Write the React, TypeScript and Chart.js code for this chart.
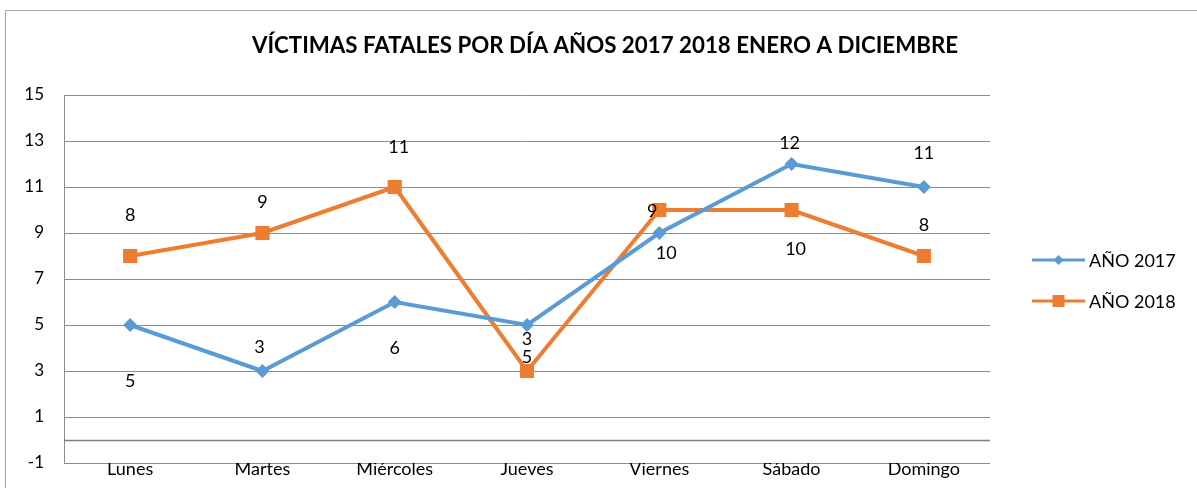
import React, { useEffect, useRef } from "react";
import { Chart, registerables } from "chart.js";

Chart.register(...registerables);

const TITLE = "VÍCTIMAS FATALES POR DÍA AÑOS 2017 2018 ENERO A DICIEMBRE";
const categories = ["Lunes", "Martes", "Miércoles", "Jueves", "Viernes", "Sábado", "Domingo"];
const values2017 = [5, 3, 6, 5, 9, 12, 11];
const values2018 = [8, 9, 11, 3, 10, 10, 8];
const seriesNames = ["AÑO 2017", "AÑO 2018"];
const yMin = -1;
const yMax = 15;
const yStep = 2;

// Layout of the (manually placed) data labels: pixel offsets from each point
const labelOffsets2017 = [[0, 56], [-3, -24], [0, 46], [0, 32], [-7, -22], [-2, -21], [0, -34]];
const labelOffsets2018 = [[0, -41], [0, -31], [4, -40], [0, -32], [7, 43], [4, 39], [0, -31]];

const BLUE = "#5B9BD5";
const ORANGE = "#ED7D31";
const GRID = "#8c8c8c";
const FONT = "Lato, 'Open Sans', sans-serif";

const decorPlugin = {
  id: "decor",
  beforeDraw(chart: any) {
    const ctx = chart.ctx;
    ctx.save();
    ctx.fillStyle = "#ffffff";
    ctx.fillRect(0, 0, chart.width, chart.height);
    ctx.strokeStyle = "#a6a6a6";
    ctx.lineWidth = 1;
    ctx.strokeRect(5.5, 10.5, chart.width + 50, chart.height + 50);
    ctx.restore();
  },
  beforeDatasetsDraw(chart: any) {
    const ctx = chart.ctx;
    const y = Math.round(chart.scales.y.getPixelForValue(0)) + 0.5;
    ctx.save();
    ctx.strokeStyle = "#7f7f7f";
    ctx.lineWidth = 1.5;
    ctx.beginPath();
    ctx.moveTo(chart.chartArea.left, y);
    ctx.lineTo(chart.chartArea.right, y);
    ctx.stroke();
    ctx.restore();
  },
  afterDatasetsDraw(chart: any) {
    const ctx = chart.ctx;
    ctx.save();
    ctx.fillStyle = "#000000";
    ctx.font = `18px ${FONT}`;
    ctx.textAlign = "center";
    ctx.textBaseline = "middle";
    const offs = [labelOffsets2017, labelOffsets2018];
    chart.data.datasets.forEach((ds: any, di: number) => {
      const meta = chart.getDatasetMeta(di);
      meta.data.forEach((el: any, i: number) => {
        const [dx, dy] = offs[di][i];
        ctx.fillText(String(ds.data[i]), el.x + dx, el.y + dy);
      });
    });
    // title
    ctx.font = `bold 22.3px ${FONT}`;
    ctx.fillText(TITLE, 605, 46);
    // legend
    const area = chart.chartArea;
    const lx0 = area.right + 42;
    const lx1 = lx0 + 53;
    const cy = (area.top + area.bottom) / 2;
    const rows = [cy - 19, cy + 22];
    chart.data.datasets.forEach((ds: any, di: number) => {
      const y = rows[di];
      ctx.strokeStyle = ds.borderColor;
      ctx.lineWidth = 3;
      ctx.beginPath();
      ctx.moveTo(lx0, y);
      ctx.lineTo(lx1, y);
      ctx.stroke();
      ctx.fillStyle = ds.borderColor;
      const mx = (lx0 + lx1) / 2;
      if (di === 0) {
        ctx.beginPath();
        ctx.moveTo(mx, y - 5);
        ctx.lineTo(mx + 5, y);
        ctx.lineTo(mx, y + 5);
        ctx.lineTo(mx - 5, y);
        ctx.closePath();
        ctx.fill();
      } else {
        ctx.fillRect(mx - 6, y - 6, 12, 12);
      }
      ctx.fillStyle = "#000000";
      ctx.font = `18px ${FONT}`;
      ctx.textAlign = "left";
      ctx.fillText(ds.label, lx1 + 4, y + 1);
      ctx.textAlign = "center";
    });
    ctx.restore();
  },
};

export default function App() {
  const ref = useRef<HTMLCanvasElement | null>(null);
  useEffect(() => {
    if (!ref.current) return;
    const chart = new Chart(ref.current, {
      type: "line",
      data: {
        labels: categories,
        datasets: [
          {
            label: seriesNames[0],
            data: values2017,
            borderColor: BLUE,
            backgroundColor: BLUE,
            borderWidth: 4,
            pointStyle: "rectRot",
            pointRadius: 7,
            pointBorderWidth: 0,
            tension: 0,
          },
          {
            label: seriesNames[1],
            data: values2018,
            borderColor: ORANGE,
            backgroundColor: ORANGE,
            borderWidth: 4,
            pointStyle: "rect",
            pointRadius: 10,
            pointBorderWidth: 0,
            tension: 0,
          },
        ],
      },
      options: {
        responsive: false,
        animation: false,
        devicePixelRatio: 1,
        layout: { padding: { left: 0, right: 207, top: 95, bottom: 0 } },
        plugins: {
          legend: { display: false },
          title: { display: false },
          tooltip: { enabled: false },
        },
        scales: {
          x: {
            type: "category",
            offset: true,
            grid: { display: false, drawTicks: false },
            border: { display: false },
            ticks: { color: "#000", font: { family: FONT, size: 18 }, padding: -5, maxRotation: 0, autoSkip: false },
            afterFit: (s: any) => {
              s.height = 25;
              s.paddingLeft = 0;
              s.paddingRight = 0;
            },
          },
          y: {
            min: yMin,
            max: yMax,
            ticks: { stepSize: yStep, color: "#000", font: { family: FONT, size: 17 }, padding: 20 },
            grid: { color: GRID, lineWidth: 1, drawTicks: false },
            border: { display: true, color: GRID, width: 1 },
            afterFit: (s: any) => {
              s.width = 64;
              s.paddingTop = 0;
              s.paddingBottom = 0;
            },
          },
        },
      },
      plugins: [decorPlugin],
    });
    return () => chart.destroy();
  }, []);
  return (
    <div style={{ position: "absolute", left: 0, top: 0, width: 1197, height: 488, overflow: "hidden", background: "#fff" }}>
      <canvas ref={ref} width={1197} height={488} style={{ display: "block" }} />
    </div>
  );
}
